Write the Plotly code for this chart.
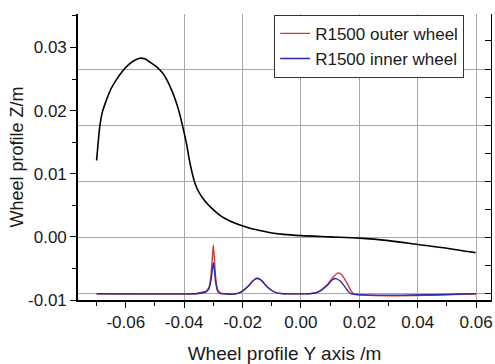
import plotly.graph_objects as go

# Black wheel profile (nominal)
profile_y = [-0.0700, -0.0694, -0.0689, -0.0680, -0.0666, -0.0650, -0.0632, -0.0612,
             -0.0592, -0.0572, -0.0552, -0.0535, -0.0518, -0.0496, -0.0473, -0.0456,
             -0.0439, -0.0427, -0.0416, -0.0405, -0.0393, -0.0383, -0.0375, -0.0367,
             -0.0358, -0.0347, -0.0334, -0.0320, -0.0305, -0.0285, -0.0260, -0.0223,
             -0.0177, -0.0140, -0.0109, -0.0060, 0.0000, 0.0100, 0.0200, 0.0300,
             0.0400, 0.0500, 0.0598]
profile_z = [0.0121, 0.0152, 0.0175, 0.0198, 0.0217, 0.0235, 0.0249, 0.0262,
             0.0272, 0.0279, 0.0283, 0.0282, 0.0277, 0.0270, 0.0259, 0.0246,
             0.0228, 0.0213, 0.0196, 0.0175, 0.0150, 0.0124, 0.0106, 0.0091,
             0.0079, 0.0069, 0.0060, 0.0052, 0.0045, 0.0037, 0.0029, 0.0021,
             0.0014, 0.0010, 0.0007, 0.0004, 0.0002, 0.0000, -0.0002, -0.0006,
             -0.0012, -0.0018, -0.0025]

# R1500 outer wheel
outer_y = [-0.0700, -0.0360, -0.0340, -0.0325, -0.0315, -0.0308, -0.0303, -0.0300,
           -0.0297, -0.0292, -0.0285, -0.0275, -0.0260, -0.0240, -0.0220, -0.0200,
           -0.0180, -0.0165, -0.0150, -0.0135, -0.0120, -0.0100, -0.0080, -0.0060,
           0.0030, 0.0060, 0.0090, 0.0110, 0.0127, 0.0140, 0.0160, 0.0180, 0.0600]
outer_z = [-0.0090, -0.0090, -0.0088, -0.0086, -0.0080, -0.0060, -0.0030, -0.0013,
           -0.0030, -0.0065, -0.0084, -0.0089, -0.0090, -0.0091, -0.0090, -0.0086,
           -0.0078, -0.0070, -0.0065, -0.0069, -0.0077, -0.0085, -0.0089, -0.0090,
           -0.0090, -0.0087, -0.0076, -0.0064, -0.0057, -0.0060, -0.0075, -0.0090, -0.0090]

# R1500 inner wheel
inner_y = [-0.0700, -0.0360, -0.0340, -0.0325, -0.0315, -0.0308, -0.0303, -0.0300,
           -0.0297, -0.0292, -0.0285, -0.0275, -0.0260, -0.0240, -0.0220, -0.0200,
           -0.0180, -0.0165, -0.0150, -0.0135, -0.0120, -0.0100, -0.0080, -0.0060,
           0.0030, 0.0060, 0.0090, 0.0105, 0.0118, 0.0135, 0.0155, 0.0170, 0.0600]
inner_z = [-0.0090, -0.0090, -0.0089, -0.0087, -0.0082, -0.0068, -0.0050, -0.0041,
           -0.0050, -0.0072, -0.0086, -0.0090, -0.0090, -0.0091, -0.0090, -0.0086,
           -0.0078, -0.0070, -0.0066, -0.0069, -0.0077, -0.0085, -0.0089, -0.0090,
           -0.0090, -0.0087, -0.0077, -0.0069, -0.0066, -0.0070, -0.0082, -0.0090, -0.0090]

x_tickvals = [-0.06, -0.04, -0.02, 0.00, 0.02, 0.04, 0.06]
x_ticktext = ["-0.06", "-0.04", "-0.02", "0.00", "0.02", "0.04", "0.06"]
y_tickvals = [-0.01, 0.00, 0.01, 0.02, 0.03]
y_ticktext = ["-0.01", "0.00", "0.01", "0.02", "0.03"]
x_grid = [-0.04, -0.02, 0.00, 0.02, 0.04, 0.06]

FONT = "Liberation Sans, Arial, sans-serif"

fig = go.Figure()
fig.add_trace(go.Scatter(x=profile_y, y=profile_z, mode="lines", showlegend=False,
                         line=dict(color="black", width=1.6, shape="spline", smoothing=0.8)))
fig.add_trace(go.Scatter(x=outer_y, y=outer_z, mode="lines", name="R1500 outer wheel",
                         line=dict(color="#d23a3a", width=1.4, shape="spline", smoothing=0.5)))
fig.add_trace(go.Scatter(x=inner_y, y=inner_z, mode="lines", name="R1500 inner wheel",
                         line=dict(color="#2a2aa8", width=1.4, shape="spline", smoothing=0.5)))
# invisible trace to activate overlay axes for grid/right frame
fig.add_trace(go.Scatter(x=[None], y=[None], xaxis="x2", yaxis="y2", showlegend=False,
                         hoverinfo="skip"))

fig.update_layout(
    width=495, height=364,
    margin=dict(l=78, r=2, t=14, b=64),
    paper_bgcolor="white", plot_bgcolor="white",
    font=dict(family=FONT, size=17, color="#1a1a1a"),
    showlegend=True,
    legend=dict(x=0.475, y=0.997, xanchor="left", yanchor="top",
                bgcolor="white", bordercolor="#333", borderwidth=1,
                font=dict(size=17), tracegroupgap=0, itemwidth=30),
    xaxis=dict(range=[-0.07636, 0.06511], tickvals=x_tickvals, ticktext=x_ticktext,
               ticks="outside", ticklen=6, tickwidth=1.2, tickcolor="black",
               minor=dict(dtick=0.01, tick0=0, ticks="outside", ticklen=4, tickcolor="black"),
               showline=True, linecolor="black", linewidth=1.6, showgrid=False,
               zeroline=False, mirror=False,
               title=dict(text="Wheel profile Y axis /m", standoff=16, font=dict(size=19)),
               layer="above traces"),
    yaxis=dict(range=[-0.0100, 0.0353], tickvals=y_tickvals, ticktext=y_ticktext,
               ticks="outside", ticklen=6, tickwidth=1.2, tickcolor="black",
               minor=dict(dtick=0.005, tick0=0, ticks="outside", ticklen=4, tickcolor="black"),
               showline=True, linecolor="black", linewidth=1.6, showgrid=False,
               zeroline=False, mirror=False,
               title=dict(text="Wheel profile Z/m", standoff=0, font=dict(size=18)),
               layer="above traces"),
    xaxis2=dict(overlaying="x", range=[-0.07636, 0.06511], tickvals=x_grid,
                showticklabels=False, ticks="", showgrid=True, gridcolor="#a8a8a8",
                gridwidth=1, zeroline=False, showline=False, side="top", layer="below traces"),
    yaxis2=dict(overlaying="y", side="right", range=[-0.107, 4.978], dtick=1, tick0=0,
                showticklabels=False, ticks="inside", ticklen=6, tickcolor="black",
                minor=dict(dtick=0.5, tick0=0, ticks="inside", ticklen=6, tickcolor="black"),
                showgrid=True, gridcolor="#a8a8a8", gridwidth=1, zeroline=False,
                showline=True, linecolor="black", linewidth=1.4, layer="below traces"),
)

fig.write_html("out.html")
